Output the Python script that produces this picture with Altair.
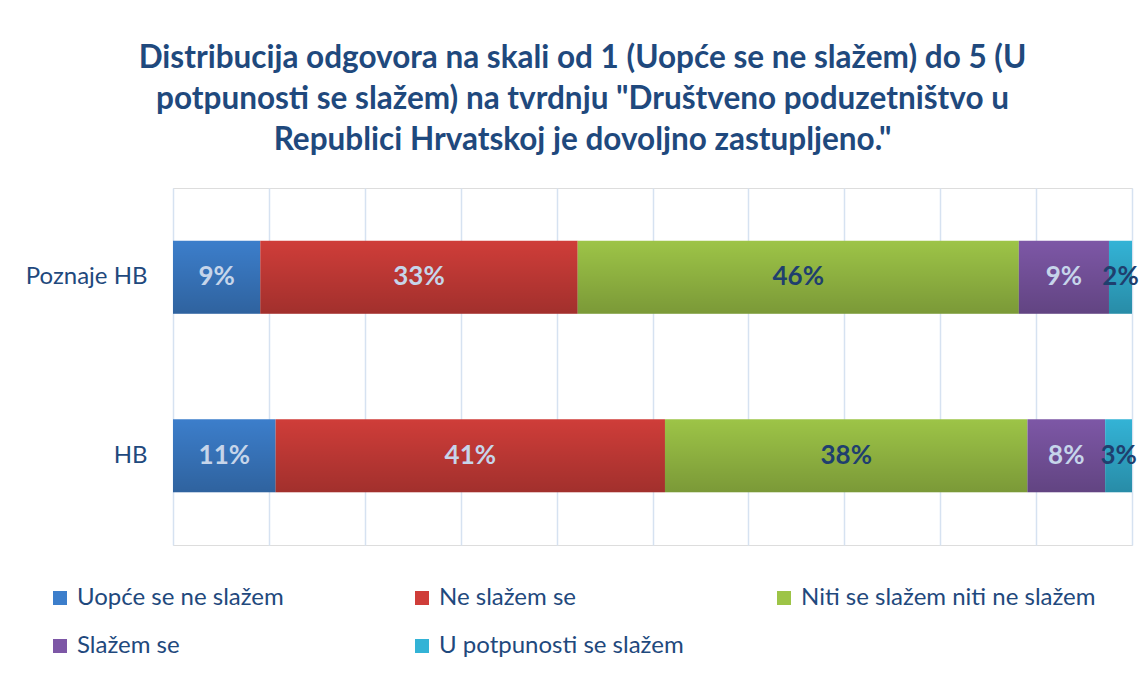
import altair as alt
import pandas as pd

groups = ["Poznaje HB", "HB"]
categories = [
    "Uopće se ne slažem",
    "Ne slažem se",
    "Niti se slažem niti  ne slažem",
    "Slažem se",
    "U potpunosti se slažem",
]
poznaje_hb = [9.1, 33.1, 46.0, 9.4, 2.4]
hb = [10.7, 40.6, 37.8, 8.1, 2.8]
colors = ["#3c7ecb", "#cf3d39", "#9dc447", "#7d57a6", "#33b3d6"]
grid_ticks = [0, 10, 20, 30, 40, 50, 60, 70, 80, 90, 100]
dark_label_cats = ["Niti se slažem niti  ne slažem", "U potpunosti se slažem"]

NAVY = "#1f497d"
FONT = "Lato"

rows = []
for g, vals in zip(groups, [poznaje_hb, hb]):
    for i, (c, v) in enumerate(zip(categories, vals)):
        rows.append({"group": g, "cat": c, "order": i, "value": v})
df = pd.DataFrame(rows)

base = (
    alt.Chart(df)
    .transform_stack(
        stack="value",
        groupby=["group"],
        sort=[alt.SortField("order", order="ascending")],
        as_=["x0", "x1"],
    )
    .transform_calculate(
        mid="(datum.x0 + datum.x1) / 2",
        label="format(datum.value, '.0f') + '%'",
    )
)

yaxis = alt.Axis(
    title=None,
    labelFontSize=24,
    labelColor=NAVY,
    labelFont=FONT,
    ticks=False,
    domain=False,
    grid=False,
    labelPadding=26,
)
yscale = alt.Scale(paddingInner=0.59, paddingOuter=0.295)
xscale = alt.Scale(domain=[0, 100], nice=False, zero=True)
xaxis = alt.Axis(
    values=grid_ticks,
    labels=False,
    ticks=False,
    domain=False,
    title=None,
    grid=True,
    gridColor="#d6e2f1",
    gridWidth=1.5,
)


def yenc():
    return alt.Y("group:N", sort=groups, scale=yscale, axis=yaxis)


bars = base.mark_bar().encode(
    x=alt.X("x0:Q", scale=xscale, axis=xaxis),
    x2="x1:Q",
    y=yenc(),
    color=alt.Color(
        "cat:N",
        sort=categories,
        scale=alt.Scale(domain=categories, range=colors),
        legend=alt.Legend(
            title=None,
            orient="none",
            direction="horizontal",
            legendX=-125,
            legendY=398,
            columns=3,
            symbolType="square",
            symbolSize=196,
            symbolStrokeWidth=0,
            labelFontSize=24,
            labelFont=FONT,
            labelColor=NAVY,
            labelOffset=5,
            rowPadding=24,
            columnPadding=32,
            gridAlign="all",
            labelLimit=400,
        ),
    ),
)

shade_gradient = alt.Gradient(
    gradient="linear",
    stops=[
        alt.GradientStop(color="rgba(0,0,0,0)", offset=0),
        alt.GradientStop(color="rgba(0,0,0,0.22)", offset=1),
    ],
    x1=0,
    x2=0,
    y1=0,
    y2=1,
)

shade = base.mark_bar(fill=shade_gradient).encode(
    x=alt.X("x0:Q", scale=xscale, axis=xaxis),
    x2="x1:Q",
    y=yenc(),
)

text = base.mark_text(font=FONT, fontWeight="bold", fontSize=26).encode(
    x=alt.X("mid:Q", scale=xscale, axis=xaxis),
    y=yenc(),
    text="label:N",
    color=alt.condition(
        alt.FieldOneOfPredicate(field="cat", oneOf=dark_label_cats),
        alt.value("#1f3f6e"),
        alt.value("#c6d5ea"),
    ),
)

chart = (
    alt.layer(bars, shade, text)
    .properties(
        width=959,
        height=357,
        autosize=alt.AutoSizeParams(type="none"),
        padding={"left": 165, "top": 180, "right": 8, "bottom": 120},
        title=alt.TitleParams(
            text=[
                "Distribucija odgovora na skali od 1 (Uopće se ne slažem) do 5 (U",
                'potpunosti se slažem) na tvrdnju "Društveno poduzetništvo u',
                'Republici Hrvatskoj je dovoljno zastupljeno."',
            ],
            font=FONT,
            fontSize=31.5,
            fontWeight="bold",
            color=NAVY,
            anchor="middle",
            dx=-70,
            offset=32,
            lineHeight=41,
        ),
    )
    .configure_view(strokeWidth=0)
    .configure(background="white")
)

chart.save("out.html", embed_options={"renderer": "svg", "actions": False})
